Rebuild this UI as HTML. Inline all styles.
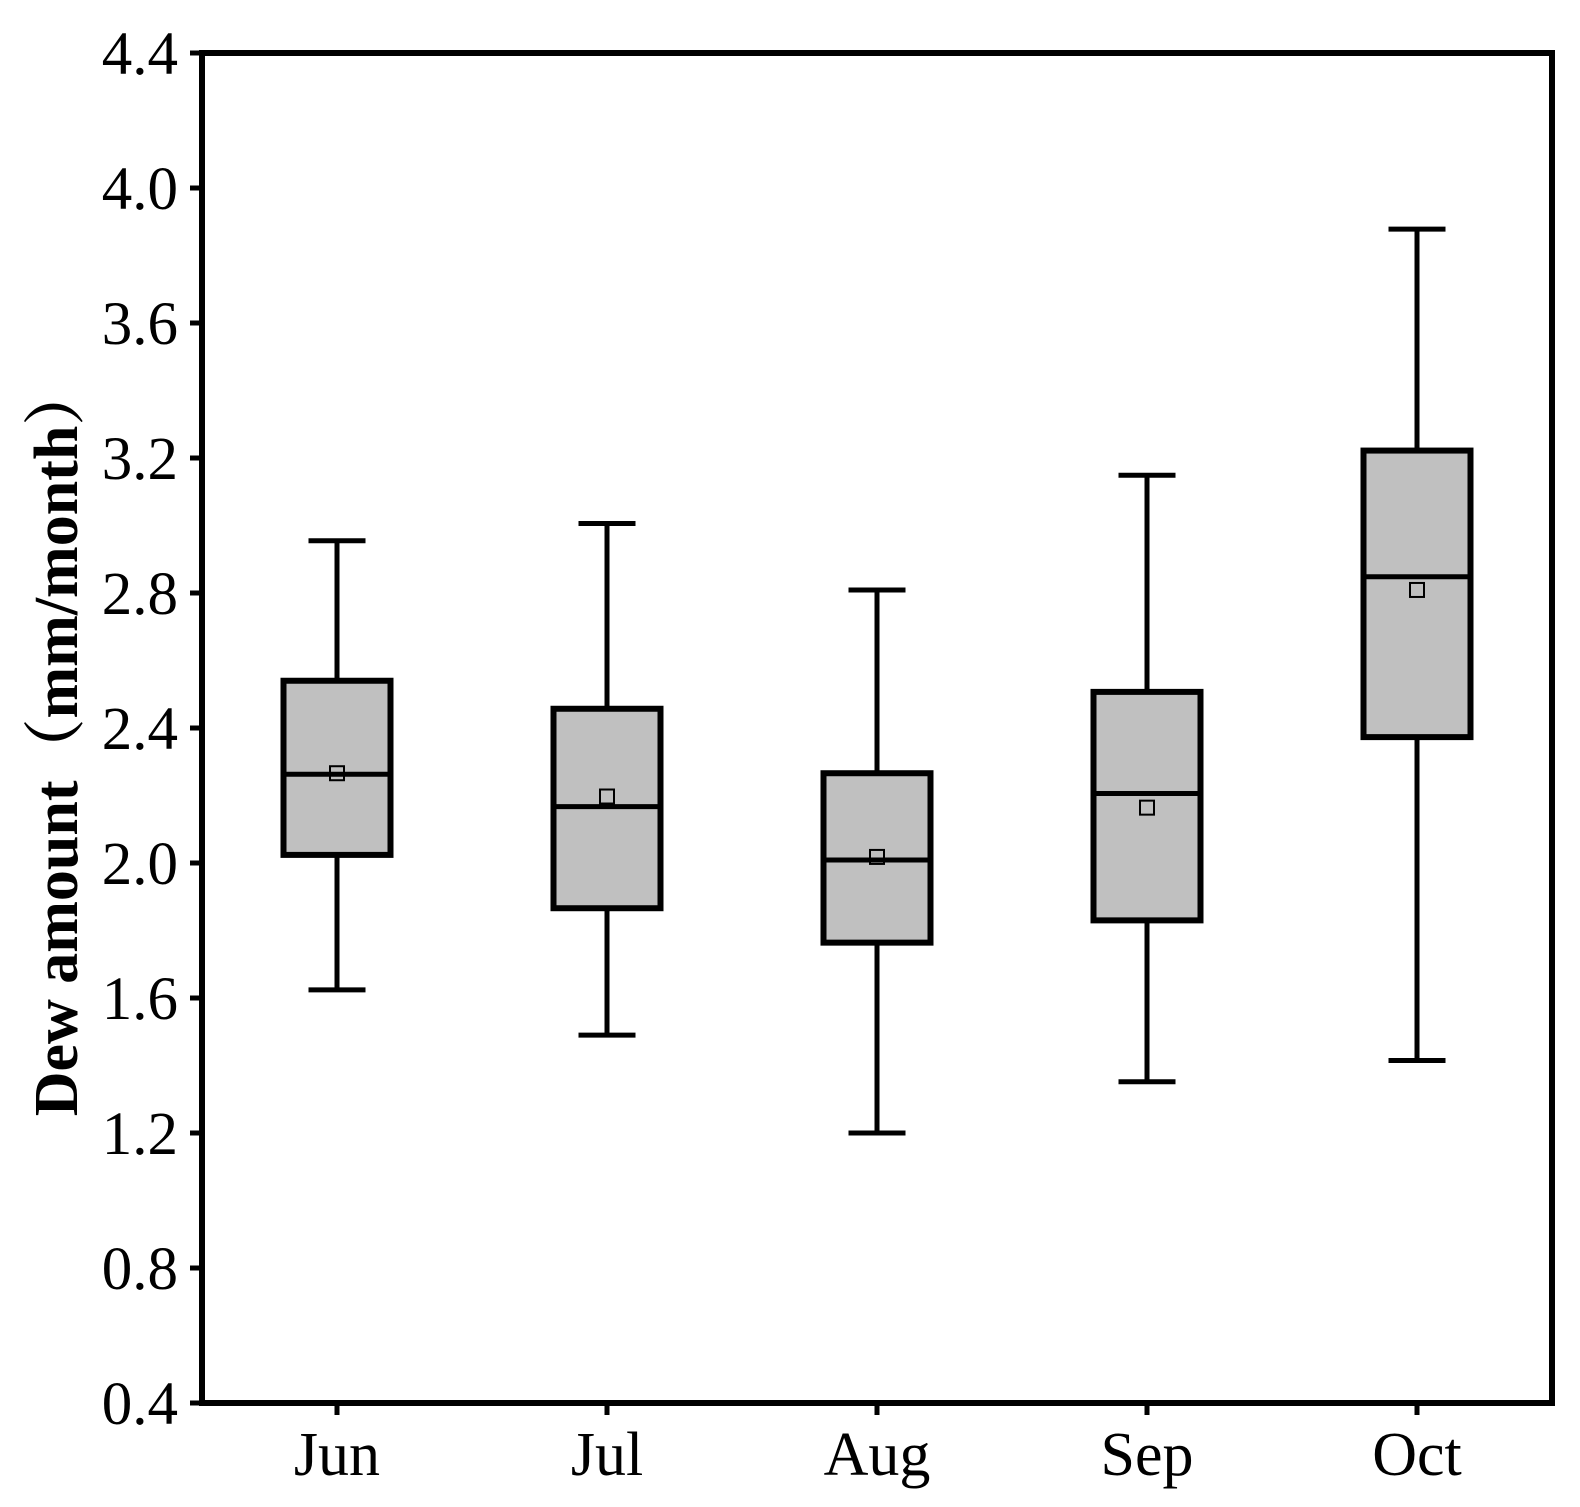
<!DOCTYPE html>
<html><head><meta charset="utf-8"><style>
html,body{margin:0;padding:0;background:#fff;}
svg{display:block;}
text{font-family:"Liberation Serif","Noto Serif CJK SC",serif;fill:#000;}
</style></head><body>
<svg id="chart" width="1580" height="1507" viewBox="0 0 1580 1507"></svg>
<script>
const categories = ["Jun","Jul","Aug","Sep","Oct"];
const whiskerHigh = [2.955, 3.006, 2.809, 3.149, 3.878];
const q3Values = [2.54, 2.457, 2.266, 2.507, 3.222];
const medianValues = [2.263, 2.167, 2.009, 2.206, 2.848];
const q1Values = [2.024, 1.866, 1.764, 1.83, 2.373];
const whiskerLow = [1.624, 1.49, 1.2, 1.352, 1.415];
const meanValues = [2.266, 2.197, 2.018, 2.164, 2.809];
const yTicks = [0.4,0.8,1.2,1.6,2.0,2.4,2.8,3.2,3.6,4.0,4.4];
const yTickLabels = ["0.4","0.8","1.2","1.6","2.0","2.4","2.8","3.2","3.6","4.0","4.4"];

const L=202,R=1552,T=53,B=1403,yMin=0.4,yMax=4.4;
const NS="http://www.w3.org/2000/svg";
const svg=document.getElementById('chart');
function y(v){return B-(v-yMin)/(yMax-yMin)*(B-T);}
function x(i){return L+(i+0.5)*(R-L)/categories.length;}
function mk(tag,attrs,parent){const e=document.createElementNS(NS,tag);for(const k in attrs)e.setAttribute(k,attrs[k]);(parent||svg).appendChild(e);return e;}

const bw=107,cw=57;
categories.forEach((c,i)=>{
  const g=mk('g',{});
  
  
  const cx=x(i);
  const w1=mk('line',{x1:cx,x2:cx,y1:y(whiskerHigh[i]),y2:y(q3Values[i]),stroke:'#000','stroke-width':5},g);
  
  
  const w2=mk('line',{x1:cx,x2:cx,y1:y(q1Values[i]),y2:y(whiskerLow[i]),stroke:'#000','stroke-width':5},g);
  
  
  const c1=mk('line',{x1:cx-cw/2,x2:cx+cw/2,y1:y(whiskerHigh[i]),y2:y(whiskerHigh[i]),stroke:'#000','stroke-width':5},g);
  
  
  const c2=mk('line',{x1:cx-cw/2,x2:cx+cw/2,y1:y(whiskerLow[i]),y2:y(whiskerLow[i]),stroke:'#000','stroke-width':5},g);
  
  
  const r=mk('rect',{x:cx-bw/2,y:y(q3Values[i]),width:bw,height:y(q1Values[i])-y(q3Values[i]),fill:'#c0c0c0',stroke:'#000','stroke-width':6},g);
  
  
  const m=mk('line',{x1:cx-bw/2,x2:cx+bw/2,y1:y(medianValues[i]),y2:y(medianValues[i]),stroke:'#000','stroke-width':5},g);
  
  
  const mn=mk('rect',{x:cx-7,y:y(meanValues[i])-7,width:14,height:14,fill:'none',stroke:'#000','stroke-width':2},g);
  
  
  const tk=mk('line',{x1:cx,x2:cx,y1:B,y2:B+12,stroke:'#000','stroke-width':5});
  
  
  const tl=mk('text',{x:cx,y:1475,'font-size':62,'text-anchor':'middle'});
  tl.textContent=c;
  
  
});

yTicks.forEach((v,i)=>{
  const tk=mk('line',{x1:L-12,x2:L,y1:y(v),y2:y(v),stroke:'#000','stroke-width':5});
  
  
  const tl=mk('text',{x:178,y:y(v)+21,'font-size':61,'text-anchor':'end'});
  tl.textContent=yTickLabels[i];
  
  
});

const frame=mk('rect',{x:L,y:T,width:R-L,height:B-T,fill:'none',stroke:'#000','stroke-width':6});



const yt=mk('text',{x:0,y:0,'font-size':62,'font-weight':'bold','text-anchor':'middle',transform:'translate(77,740) rotate(-90)'});
yt.textContent='Dew amount（mm/month）';


</script>
</body></html>
